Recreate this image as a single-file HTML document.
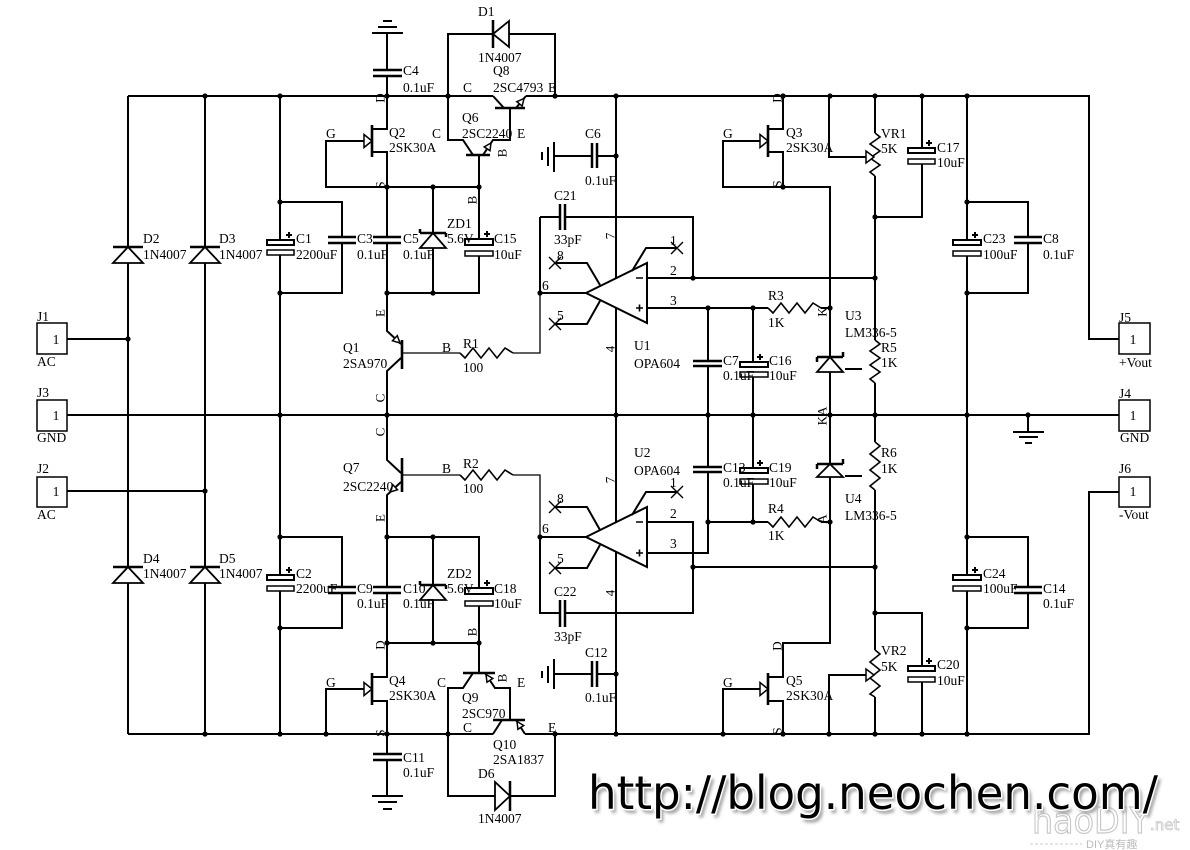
<!DOCTYPE html>
<html><head><meta charset="utf-8"><style>
html,body{margin:0;padding:0;background:#fff;}
svg{display:block;}
</style></head><body>
<svg xmlns="http://www.w3.org/2000/svg" width="1190" height="850" viewBox="0 0 1190 850">
<defs>
<filter id="sh" x="-5%" y="-30%" width="110%" height="160%"><feGaussianBlur stdDeviation="1.6"/></filter>
</defs>
<rect width="1190" height="850" fill="#fff"/>

<!-- main wires -->
<g stroke="#000" stroke-width="2" fill="none">
<path d="M128 96 H493 M526 96 H1089 V339 H1119 M67 415 H1119 M128 734 H493 M525 734 H1089 V492 H1119
M128 96 V734 M205 96 V734 M67 339 H128 M67 491 H205
M280 96 V240 M280 255 V575 M280 591 V734
M280 202 H342 V237 M342 243 V293 H280 M280 537 H342 V587 M342 593 V628 H280
M387 33 V70 M387 76 V129 H372 M372 152 H387 V237 M387 243 V331 L401 344 M401 358 L387 371 V460 L401 473 M401 482 L387 495 V587 M387 593 V677 H372 M372 701 H387 V754 M387 760 V796
M364 141 H326 V187 H479 M479 155 V239 M479 256 V293 H387 M433 187 V293
M387 537 H479 V588 M479 606 V673 M433 537 V643 M387 643 H479 M364 689 H326 V734
M448 96 V140 H463 L473 155 M483 155 L493 140 H510 V108 M493 96 L504 108 M516 108 L526 96
M448 96 V34 H493 M509 34 H555 V96
M448 734 V796 H495 M510 796 H555 V734
M473 673 L463 688 H448 V734 M485 673 L495 688 H510 V720 M502 720 L493 734 M516 720 L525 734
M616 96 V734
M554 156 H592 M597 156 H616 M554 674 H592 M597 674 H616
M540 217 V293 M540 217 H560 M565 217 H693 V278 M540 293 H586 M647 278 H875 M647 308 H768 M821 308 H830
M540 537 V613 H560 M565 613 H693 V522 H647 M540 537 H586 M647 553 H708 V472 M708 522 H768 M821 522 H830 M693 567 H875
M708 308 V361 M708 366 V467 M753 308 V362 M753 377 V468 M753 484 V522
M783 187 H830 V357 M830 372 V464 M830 477 V643 H783 V677 H768 M768 701 H783 V734
M768 129 H783 V96 M768 152 H783 V187 M760 141 H723 V187 H783 M760 689 H723 V734
M829 96 V157 H866 M829 734 V675 H866
M875 96 V133 M875 176 V340 M875 383 V442 M875 490 V650 M875 697 V734
M922 96 V148 M922 164 V217 H875 M875 613 H922 V666 M922 682 V734
M967 96 V240 M967 255 V575 M967 591 V734
M967 202 H1028 V237 M1028 243 V293 H967 M967 537 H1028 V587 M1028 593 V628 H967
M1028 415 V432 M845 369 H862 M845 476 H862"/>
<!-- thin wires -->
<path stroke-width="1.3" d="M402 353 H460 M513 353 H540 V293 M402 475 H460 M513 475 H540 V537"/>
<!-- resistors -->
<path stroke-width="1.6" d="M460 353 l5 5 l8 -10 l8 10 l8 -10 l8 10 l8 -10 l8 5
M460 475 l5 5 l8 -10 l8 10 l8 -10 l8 10 l8 -10 l8 5
M768 308 l5 5 l8 -10 l8 10 l8 -10 l8 10 l8 -10 l8 5
M768 522 l5 5 l8 -10 l8 10 l8 -10 l8 10 l8 -10 l8 5
M875 133 l5 4 l-10 7 l10 7 l-10 7 l10 7 l-10 7 l5 4
M875 340 l5 4 l-10 7 l10 7 l-10 7 l10 7 l-10 7 l5 4
M875 442 l5 4 l-10 8 l10 8 l-10 8 l10 8 l-10 8 l5 4
M875 650 l5 4 l-10 8 l10 8 l-10 8 l10 8 l-10 8 l5 3"/>
<!-- plain capacitor plates -->
<path stroke-width="2.5" d="M328 237 H356 M328 243 H356 M373 237 H401 M373 243 H401 M373 70 H402 M373 76 H402
M328 587 H356 M328 593 H356 M373 587 H401 M373 593 H401 M373 754 H402 M373 760 H402
M693 361 H722 M693 366 H722 M693 467 H722 M693 472 H722 M1014 237 H1042 M1014 243 H1042 M1014 587 H1042 M1014 593 H1042
M560 204 V230 M565 204 V230 M560 600 V627 M565 600 V627 M592 143 V168 M597 143 V168 M592 661 V687 M597 661 V687"/>
<!-- grounds -->
<path d="M372 33 H403 M378 27 H397 M383 21 H392 M372 796 H403 M378 802 H397 M383 809 H392
M554 142 V172 M548 147 V166 M542 152 V160 M554 659 V689 M548 666 V683 M542 671 V678
M1013 432 H1044 M1019 437 H1038 M1025 443 H1032"/>
<!-- transistor bars -->
<path stroke-width="2.6" d="M372 125 V157 M372 673 V705 M768 125 V157 M768 673 V705 M402 340 V369 M402 458 V492
M495 108 H525 M466 155 H490 M463 673 H495 M493 720 H525"/>
<!-- diode bars -->
<path stroke-width="2.5" d="M113 247 H143 M190 247 H220 M113 567 H143 M190 567 H220 M493 20 V48 M510 781 V811
M420 233 H446 M420 233 V229 M446 233 V237 M420 585 H446 M420 585 V581 M446 585 V589
M817 357 H843 M817 357 V362 M843 357 V352 M817 464 H843 M817 464 V469 M843 464 V459"/>
</g>

<!-- shapes with white fill -->
<g stroke="#000" fill="#fff" stroke-width="1.8">
<polygon points="113,263 143,263 128,247"/>
<polygon points="190,263 220,263 205,247"/>
<polygon points="113,583 143,583 128,567"/>
<polygon points="190,583 220,583 205,567"/>
<polygon points="509,21 509,47 493,34"/>
<polygon points="495,782 495,810 510,796"/>
<polygon points="420,248 446,248 433,233"/>
<polygon points="420,600 446,600 433,585"/>
<polygon points="817,372 843,372 830,357"/>
<polygon points="817,477 843,477 830,464"/>
<polygon points="586,293 647,263 647,323" stroke-width="2"/>
<polygon points="586,537 647,507 647,567" stroke-width="2"/>
<polygon points="364,134.5 364,147.5 372,141" stroke-width="1.5"/>
<polygon points="364,682.5 364,695.5 372,689" stroke-width="1.5"/>
<polygon points="760,134.5 760,147.5 768,141" stroke-width="1.5"/>
<polygon points="760,682.5 760,695.5 768,689" stroke-width="1.5"/>
<polygon points="866,151 866,163 874,157" stroke-width="1.5"/>
<polygon points="866,669 866,681 874,675" stroke-width="1.5"/>
<polygon points="400,343 392.5,340.8 397.3,335.6" stroke-width="1.5"/>
<polygon points="390,492 397.5,489.8 392.7,484.6" stroke-width="1.5"/>
<polygon points="524,98.5 522.2,106.1 516.8,101.7" stroke-width="1.5"/>
<polygon points="491,143 490,150.7 484.2,146.9" stroke-width="1.5"/>
<polygon points="486,674.5 492.8,678.4 487,682.2" stroke-width="1.5"/>
<polygon points="517,721.5 523.7,725.5 517.9,729.3" stroke-width="1.5"/>
<!-- electrolytic plates -->
<rect x="267" y="240" width="27" height="5" stroke-width="2"/><rect x="267" y="250" width="27" height="5" stroke-width="1.5"/>
<rect x="267" y="575" width="27" height="5" stroke-width="2"/><rect x="267" y="586" width="27" height="5" stroke-width="1.5"/>
<rect x="465" y="239" width="28" height="6" stroke-width="2"/><rect x="465" y="251" width="28" height="5" stroke-width="1.5"/>
<rect x="465" y="588" width="28" height="6" stroke-width="2"/><rect x="465" y="601" width="28" height="5" stroke-width="1.5"/>
<rect x="740" y="362" width="28" height="5" stroke-width="2"/><rect x="740" y="372" width="28" height="5" stroke-width="1.5"/>
<rect x="740" y="468" width="28" height="5" stroke-width="2"/><rect x="740" y="479" width="28" height="5" stroke-width="1.5"/>
<rect x="908" y="148" width="27" height="5" stroke-width="2"/><rect x="908" y="159" width="27" height="5" stroke-width="1.5"/>
<rect x="908" y="666" width="27" height="5" stroke-width="2"/><rect x="908" y="677" width="27" height="5" stroke-width="1.5"/>
<rect x="953" y="240" width="28" height="5" stroke-width="2"/><rect x="953" y="251" width="28" height="5" stroke-width="1.5"/>
<rect x="953" y="575" width="28" height="5" stroke-width="2"/><rect x="953" y="586" width="28" height="5" stroke-width="1.5"/>
<!-- connector boxes -->
<rect x="37" y="323" width="30" height="31" stroke-width="1.5"/>
<rect x="37" y="400" width="30" height="31" stroke-width="1.5"/>
<rect x="37" y="477" width="30" height="30" stroke-width="1.5"/>
<rect x="1119" y="323" width="31" height="31" stroke-width="1.5"/>
<rect x="1119" y="400" width="31" height="31" stroke-width="1.5"/>
<rect x="1119" y="477" width="31" height="30" stroke-width="1.5"/>
</g>

<!-- plus signs & X marks & opamp pin lines -->
<g stroke="#000" stroke-width="2" fill="none">
<path d="M286 235 h6 M289 232 v6 M286 570 h6 M289 567 v6 M484 234 h6 M487 231 v6 M484 583 h6 M487 580 v6
M757 357 h6 M760 354 v6 M757 463 h6 M760 460 v6 M926 143 h6 M929 140 v6 M926 661 h6 M929 658 v6
M972 235 h6 M975 232 v6 M972 570 h6 M975 567 v6"/>
<path d="M555 263 H587 L600 285 M555 324 H587 L600 301 M632 271 L646 248 H677
M555 507 H587 L600 530 M555 568 H587 L600 545 M632 515 L646 492 H677"/>
<path stroke-width="1.4" d="M549 257 l12 12 M549 269 l12 -12 M549 318 l12 12 M549 330 l12 -12 M671 242 l12 12 M671 254 l12 -12
M549 501 l12 12 M549 513 l12 -12 M549 562 l12 12 M549 574 l12 -12 M671 486 l12 12 M671 498 l12 -12"/>
<path d="M636 278 h7 M636 308 h7 M639.5 304.5 v7 M636 522 h7 M636 553 h7 M639.5 549.5 v7" stroke-width="1.6"/>
</g>

<!-- junction dots -->
<g fill="#000">
<circle cx="205" cy="96" r="2.6"/><circle cx="280" cy="96" r="2.6"/><circle cx="387" cy="96" r="2.6"/><circle cx="448" cy="96" r="2.6"/><circle cx="555" cy="96" r="2.6"/><circle cx="616" cy="96" r="2.6"/><circle cx="783" cy="96" r="2.6"/><circle cx="830" cy="96" r="2.6"/><circle cx="875" cy="96" r="2.6"/><circle cx="922" cy="96" r="2.6"/><circle cx="967" cy="96" r="2.6"/>
<circle cx="387" cy="187" r="2.6"/><circle cx="433" cy="187" r="2.6"/><circle cx="479" cy="187" r="2.6"/><circle cx="783" cy="187" r="2.6"/>
<circle cx="280" cy="202" r="2.6"/><circle cx="280" cy="293" r="2.6"/><circle cx="387" cy="293" r="2.6"/><circle cx="433" cy="293" r="2.6"/>
<circle cx="616" cy="156" r="2.6"/><circle cx="540" cy="293" r="2.6"/><circle cx="693" cy="278" r="2.6"/><circle cx="875" cy="278" r="2.6"/>
<circle cx="708" cy="308" r="2.6"/><circle cx="753" cy="308" r="2.6"/><circle cx="830" cy="308" r="2.6"/><circle cx="875" cy="217" r="2.6"/>
<circle cx="967" cy="202" r="2.6"/><circle cx="967" cy="293" r="2.6"/><circle cx="128" cy="339" r="2.6"/>
<circle cx="280" cy="415" r="2.6"/><circle cx="387" cy="415" r="2.6"/><circle cx="616" cy="415" r="2.6"/><circle cx="708" cy="415" r="2.6"/><circle cx="753" cy="415" r="2.6"/><circle cx="830" cy="415" r="2.6"/><circle cx="875" cy="415" r="2.6"/><circle cx="967" cy="415" r="2.6"/><circle cx="1028" cy="415" r="2.6"/>
<circle cx="205" cy="491" r="2.6"/><circle cx="280" cy="537" r="2.6"/><circle cx="280" cy="628" r="2.6"/><circle cx="387" cy="537" r="2.6"/><circle cx="433" cy="537" r="2.6"/>
<circle cx="387" cy="643" r="2.6"/><circle cx="433" cy="643" r="2.6"/><circle cx="479" cy="643" r="2.6"/><circle cx="540" cy="537" r="2.6"/><circle cx="693" cy="567" r="2.6"/><circle cx="875" cy="567" r="2.6"/>
<circle cx="708" cy="522" r="2.6"/><circle cx="753" cy="522" r="2.6"/><circle cx="830" cy="522" r="2.6"/><circle cx="875" cy="613" r="2.6"/><circle cx="967" cy="537" r="2.6"/><circle cx="967" cy="628" r="2.6"/><circle cx="616" cy="674" r="2.6"/>
<circle cx="205" cy="734" r="2.6"/><circle cx="280" cy="734" r="2.6"/><circle cx="326" cy="734" r="2.6"/><circle cx="387" cy="734" r="2.6"/><circle cx="448" cy="734" r="2.6"/><circle cx="555" cy="734" r="2.6"/><circle cx="616" cy="734" r="2.6"/><circle cx="723" cy="734" r="2.6"/><circle cx="783" cy="734" r="2.6"/><circle cx="829" cy="734" r="2.6"/><circle cx="875" cy="734" r="2.6"/><circle cx="922" cy="734" r="2.6"/><circle cx="967" cy="734" r="2.6"/>
</g>

<!-- labels -->
<g font-family="'Liberation Serif', serif" font-size="13.5" fill="#000">
<text x="37" y="321">J1</text><text x="56" y="344" text-anchor="middle">1</text><text x="37" y="366">AC</text>
<text x="37" y="397">J3</text><text x="56" y="420" text-anchor="middle">1</text><text x="37" y="442">GND</text>
<text x="37" y="473">J2</text><text x="56" y="496" text-anchor="middle">1</text><text x="37" y="519">AC</text>
<text x="143" y="243">D2</text><text x="143" y="259">1N4007</text><text x="219" y="243">D3</text><text x="219" y="259">1N4007</text>
<text x="143" y="563">D4</text><text x="143" y="578">1N4007</text><text x="219" y="563">D5</text><text x="219" y="578">1N4007</text>
<text x="296" y="243">C1</text><text x="296" y="259">2200uF</text><text x="296" y="578">C2</text><text x="296" y="593">2200uF</text>
<text x="357" y="243">C3</text><text x="357" y="259">0.1uF</text><text x="357" y="593">C9</text><text x="357" y="608">0.1uF</text>
<text x="326" y="138">G</text><text x="326" y="687">G</text>
<text x="389" y="137">Q2</text><text x="389" y="152">2SK30A</text><text x="389" y="685">Q4</text><text x="389" y="700">2SK30A</text>
<text x="403" y="75">C4</text><text x="403" y="92">0.1uF</text>
<text x="478" y="16">D1</text><text x="478" y="62">1N4007</text>
<text x="493" y="75">Q8</text><text x="493" y="92">2SC4793</text><text x="463" y="92">C</text><text x="548" y="92">E</text>
<text x="432" y="138">C</text><text x="462" y="122">Q6</text><text x="462" y="138">2SC2240</text><text x="517" y="138">E</text>
<text x="403" y="243">C5</text><text x="403" y="259">0.1uF</text><text x="447" y="228">ZD1</text><text x="447" y="243">5.6V</text><text x="494" y="243">C15</text><text x="494" y="259">10uF</text>
<text x="403" y="593">C10</text><text x="403" y="608">0.1uF</text><text x="447" y="578">ZD2</text><text x="447" y="593">5.6V</text><text x="494" y="593">C18</text><text x="494" y="608">10uF</text>
<text x="585" y="138">C6</text><text x="585" y="185">0.1uF</text><text x="554" y="200">C21</text><text x="554" y="244">33pF</text>
<text x="554" y="596">C22</text><text x="554" y="641">33pF</text><text x="585" y="657">C12</text><text x="585" y="702">0.1uF</text>
<text x="343" y="352">Q1</text><text x="343" y="368">2SA970</text><text x="442" y="352">B</text><text x="463" y="348">R1</text><text x="463" y="372">100</text>
<text x="343" y="472">Q7</text><text x="343" y="491">2SC2240</text><text x="442" y="473">B</text><text x="463" y="468">R2</text><text x="463" y="493">100</text>
<text x="437" y="687">C</text><text x="517" y="687">E</text><text x="462" y="702">Q9</text><text x="462" y="718">2SC970</text>
<text x="463" y="732">C</text><text x="548" y="732">E</text><text x="493" y="749">Q10</text><text x="493" y="764">2SA1837</text>
<text x="403" y="762">C11</text><text x="403" y="777">0.1uF</text>
<text x="478" y="778">D6</text><text x="478" y="823">1N4007</text>
<text x="557" y="260">8</text><text x="557" y="320">5</text><text x="542" y="290">6</text><text x="670" y="245">1</text><text x="670" y="275">2</text><text x="670" y="305">3</text>
<text x="634" y="350">U1</text><text x="634" y="368">OPA604</text>
<text x="557" y="503">8</text><text x="557" y="563">5</text><text x="542" y="533">6</text><text x="670" y="487">1</text><text x="670" y="518">2</text><text x="670" y="548">3</text>
<text x="634" y="457">U2</text><text x="634" y="475">OPA604</text>
<text x="723" y="365">C7</text><text x="723" y="380">0.1uF</text><text x="769" y="365">C16</text><text x="769" y="380">10uF</text>
<text x="723" y="472">C13</text><text x="723" y="487">0.1uF</text><text x="769" y="472">C19</text><text x="769" y="487">10uF</text>
<text x="768" y="300">R3</text><text x="768" y="327">1K</text><text x="768" y="513">R4</text><text x="768" y="540">1K</text>
<text x="845" y="320">U3</text><text x="845" y="337">LM336-5</text><text x="845" y="503">U4</text><text x="845" y="520">LM336-5</text>
<text x="881" y="352">R5</text><text x="881" y="367">1K</text><text x="881" y="457">R6</text><text x="881" y="473">1K</text>
<text x="881" y="138">VR1</text><text x="881" y="153">5K</text><text x="881" y="655">VR2</text><text x="881" y="671">5K</text>
<text x="937" y="152">C17</text><text x="937" y="167">10uF</text><text x="937" y="669">C20</text><text x="937" y="685">10uF</text>
<text x="786" y="137">Q3</text><text x="786" y="152">2SK30A</text><text x="723" y="138">G</text>
<text x="786" y="685">Q5</text><text x="786" y="700">2SK30A</text><text x="723" y="687">G</text>
<text x="983" y="243">C23</text><text x="983" y="259">100uF</text><text x="1043" y="243">C8</text><text x="1043" y="259">0.1uF</text>
<text x="983" y="578">C24</text><text x="983" y="593">100uF</text><text x="1043" y="593">C14</text><text x="1043" y="608">0.1uF</text>
<text x="1119" y="322">J5</text><text x="1133" y="344" text-anchor="middle">1</text><text x="1119" y="367">+Vout</text>
<text x="1119" y="398">J4</text><text x="1133" y="420" text-anchor="middle">1</text><text x="1120" y="442">GND</text>
<text x="1119" y="473">J6</text><text x="1133" y="496" text-anchor="middle">1</text><text x="1119" y="519">-Vout</text>
</g>
<!-- rotated pin labels -->
<g font-family="'Liberation Serif', serif" font-size="13" fill="#000" text-anchor="middle">
<text transform="translate(380,98) rotate(-90)" y="4.5">D</text>
<text transform="translate(380,185) rotate(-90)" y="4.5">S</text>
<text transform="translate(380,313) rotate(-90)" y="4.5">E</text>
<text transform="translate(380,398) rotate(-90)" y="4.5">C</text>
<text transform="translate(380,432) rotate(-90)" y="4.5">C</text>
<text transform="translate(380,518) rotate(-90)" y="4.5">E</text>
<text transform="translate(380,645) rotate(-90)" y="4.5">D</text>
<text transform="translate(380,733) rotate(-90)" y="4.5">S</text>
<text transform="translate(502,153) rotate(-90)" y="4.5">B</text>
<text transform="translate(472,200) rotate(-90)" y="4.5">B</text>
<text transform="translate(472,632) rotate(-90)" y="4.5">B</text>
<text transform="translate(502,678) rotate(-90)" y="4.5">B</text>
<text transform="translate(822,312) rotate(-90)" y="4.5">K</text>
<text transform="translate(822,416) rotate(-90)" y="4.5">KA</text>
<text transform="translate(822,519) rotate(-90)" y="4.5">A</text>
<text transform="translate(777,98) rotate(-90)" y="4.5">D</text>
<text transform="translate(777,184) rotate(-90)" y="4.5">S</text>
<text transform="translate(777,646) rotate(-90)" y="4.5">D</text>
<text transform="translate(777,731) rotate(-90)" y="4.5">S</text>
<text transform="translate(610,236) rotate(-90)" y="4.5">7</text>
<text transform="translate(610,349) rotate(-90)" y="4.5">4</text>
<text transform="translate(610,480) rotate(-90)" y="4.5">7</text>
<text transform="translate(610,593) rotate(-90)" y="4.5">4</text>
</g>

<!-- watermark logo -->
<g font-family="'DejaVu Sans', 'Liberation Sans', sans-serif">
<text x="1032" y="833" font-size="36" fill="#fff" stroke="#c8c8c8" stroke-width="1.2" textLength="118" lengthAdjust="spacingAndGlyphs">haoDIY</text>
<text x="1150" y="830" font-size="15" fill="#fff" stroke="#c8c8c8" stroke-width="0.8">.net</text>
<text x="1086" y="848" font-size="11" fill="#bbb" font-family="'Liberation Sans','Noto Sans CJK TC',sans-serif">DIY真有趣</text>
<path d="M1030 844 H1082" stroke="#ccc" stroke-width="1" stroke-dasharray="3,2"/>
</g>
<!-- URL watermark -->
<g font-family="'DejaVu Sans', 'Liberation Sans', sans-serif" font-size="46">
<text x="591" y="813" fill="#999" filter="url(#sh)" textLength="570" lengthAdjust="spacingAndGlyphs">http://blog.neochen.com/</text>
<text x="588" y="809" fill="#000" stroke="#fff" stroke-width="3" paint-order="stroke" textLength="570" lengthAdjust="spacingAndGlyphs">http://blog.neochen.com/</text>
</g>
</svg>
</body></html>
